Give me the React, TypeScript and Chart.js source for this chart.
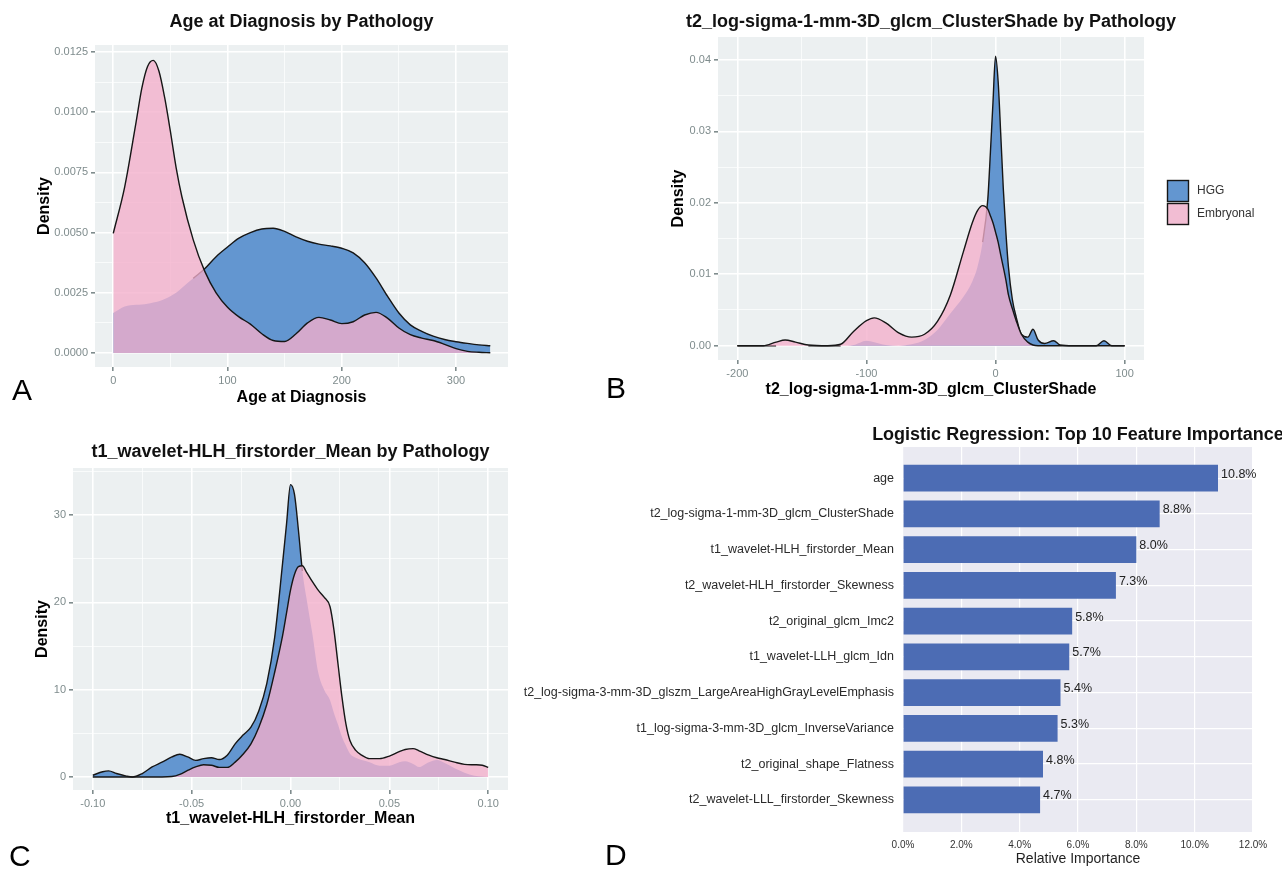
import React, { useEffect, useRef } from "react";
import { Chart, registerables } from "chart.js";

Chart.register(...registerables);

const FONT = "'Liberation Sans', Arial, Helvetica, sans-serif";
const PANEL_BG = "#ECF0F1";
const TICK_GREY = "#7F8C8D";
const HGG_FILL = "#6396D0";
const EMB_FILL = "rgba(243,174,202,0.78)";
const OUTLINE = "#161616";

// ---------- Panel A: Age at Diagnosis ----------
const ageX = [0, 10, 20, 25, 30, 35, 40, 45, 50, 55, 60, 70, 80, 90, 100, 110, 120, 130, 140, 150, 160, 170, 180, 190, 200, 210, 220, 230, 240, 250, 260, 270, 280, 290, 300, 310, 320, 330];
const ageHGG = [0.00166, 0.00193, 0.002, 0.00202, 0.00205, 0.0021, 0.00215, 0.00224, 0.00236, 0.0025, 0.0027, 0.0031, 0.0035, 0.004, 0.0044, 0.00477, 0.005, 0.00515, 0.00518, 0.00505, 0.00482, 0.00464, 0.00452, 0.00445, 0.00435, 0.00416, 0.00375, 0.00312, 0.00236, 0.00166, 0.00117, 0.0009, 0.0007, 0.00056, 0.00047, 0.0004, 0.00034, 0.0003];
const ageEmb = [0.00497, 0.0069, 0.0096, 0.011, 0.0119, 0.01215, 0.0117, 0.0106, 0.0092, 0.0077, 0.0065, 0.0047, 0.0034, 0.0025, 0.0019, 0.0015, 0.0012, 0.0008, 0.00052, 0.00048, 0.0008, 0.00125, 0.00148, 0.00137, 0.00122, 0.0013, 0.00158, 0.00169, 0.00145, 0.00104, 0.00076, 0.00062, 0.00052, 0.00036, 0.00018, 0.00007, 0.00003, 0.00001];
const ageTicksX = [0, 100, 200, 300];
const ageMinorX = [50, 150, 250];
const ageTicksY = [0, 0.0025, 0.005, 0.0075, 0.01, 0.0125];
const ageMinorY = [0.00125, 0.00375, 0.00625, 0.00875, 0.01125];

// ---------- Panel B: t2_log-sigma-1-mm-3D_glcm_ClusterShade ----------
const shadeX = [-200, -180, -170, -163, -155, -145, -130, -120, -110, -100, -94, -85, -75, -65, -55, -45, -35, -25, -18, -14, -10, -6, -4, -2, 0, 2, 4, 6, 8, 10, 13, 16, 20, 25, 29, 33, 38, 45, 50, 60, 78, 84, 90, 100];
const shadeHGG = [0, 0, 0, 0, 0, 0, 0, 0, 0.0001, 0.0007, 0.0005, 0.0001, 0, 0.0002, 0.0008, 0.0022, 0.0045, 0.0068, 0.009, 0.011, 0.0145, 0.0205, 0.027, 0.034, 0.0405, 0.037, 0.0297, 0.022, 0.0159, 0.011, 0.0065, 0.004, 0.0016, 0.0012, 0.0023, 0.0008, 0.0003, 0.0007, 0.0001, 0, 0, 0.0007, 0, 0];
const shadeEmb = [0, 0, 0.0005, 0.0008, 0.0005, 0.0001, 0, 0.0002, 0.002, 0.0035, 0.0039, 0.0032, 0.0018, 0.0012, 0.0016, 0.0034, 0.0071, 0.0131, 0.0172, 0.0189, 0.0196, 0.0191, 0.0182, 0.0172, 0.0159, 0.0145, 0.0127, 0.011, 0.0092, 0.0071, 0.0052, 0.0035, 0.0016, 0.0005, 0.0001, 0, 0, 0, 0, 0, 0, 0, 0, 0];
const shadeTicksX = [-200, -100, 0, 100];
const shadeMinorX = [-150, -50, 50];
const shadeTicksY = [0, 0.01, 0.02, 0.03, 0.04];
const shadeMinorY = [0.005, 0.015, 0.025, 0.035];

// ---------- Panel C: t1_wavelet-HLH_firstorder_Mean ----------
const meanX = [-0.1, -0.095, -0.092, -0.088, -0.083, -0.08, -0.075, -0.07, -0.065, -0.06, -0.056, -0.052, -0.048, -0.044, -0.04, -0.036, -0.032, -0.028, -0.024, -0.02, -0.016, -0.012, -0.008, -0.004, -0.002, 0, 0.002, 0.004, 0.006, 0.008, 0.011, 0.014, 0.017, 0.02, 0.022, 0.024, 0.026, 0.028, 0.03, 0.033, 0.036, 0.04, 0.045, 0.05, 0.055, 0.058, 0.062, 0.065, 0.07, 0.074, 0.078, 0.083, 0.088, 0.093, 0.097, 0.1];
const meanHGG = [0.2, 0.6, 0.7, 0.4, 0.1, 0.0, 0.4, 1.15, 1.7, 2.3, 2.6, 2.3, 1.9, 2.1, 2.2, 2.0, 2.5, 3.8, 4.8, 5.7, 7.6, 10.7, 16, 24.5, 29, 33.5, 32.4, 28.3, 23.6, 20.6, 16.5, 12, 10, 8.8, 7.3, 6.0, 4.6, 3.6, 2.7, 2.2, 1.95, 1.7, 1.3, 1.3, 1.7, 1.8, 1.5, 1.15, 1.7, 1.95, 1.6, 1.0, 0.5, 0.15, 0.05, 0];
const meanEmb = [0, 0, 0, 0, 0, 0, 0, 0, 0, 0.05, 0.3, 0.75, 1.15, 1.4, 1.35, 1.1, 1.1, 1.7, 2.6, 3.8, 5.7, 8.3, 12, 16.2, 18.8, 21.4, 23.2, 24.1, 24.2, 23.5, 22.4, 21.4, 20.6, 19.5, 16.8, 13, 9.2, 6.1, 4.2, 3.05, 2.5, 2.1, 2.1, 2.4, 2.9, 3.15, 3.25, 3.0, 2.5, 2.2, 2.0, 1.7, 1.45, 1.4, 1.35, 1.1];
const meanTicksX = [-0.1, -0.05, 0, 0.05, 0.1];
const meanMinorX = [-0.075, -0.025, 0.025, 0.075];
const meanTicksY = [0, 10, 20, 30];
const meanMinorY = [5, 15, 25, 35];

// ---------- Panel D: feature importance ----------
const featureNames = [
  "age",
  "t2_log-sigma-1-mm-3D_glcm_ClusterShade",
  "t1_wavelet-HLH_firstorder_Mean",
  "t2_wavelet-HLH_firstorder_Skewness",
  "t2_original_glcm_Imc2",
  "t1_wavelet-LLH_glcm_Idn",
  "t2_log-sigma-3-mm-3D_glszm_LargeAreaHighGrayLevelEmphasis",
  "t1_log-sigma-3-mm-3D_glcm_InverseVariance",
  "t2_original_shape_Flatness",
  "t2_wavelet-LLL_firstorder_Skewness",
];
const featureValues = [10.8, 8.8, 8.0, 7.3, 5.8, 5.7, 5.4, 5.3, 4.8, 4.7];
const importanceTicks = [0, 2, 4, 6, 8, 10, 12];

const near = (list: number[], v: number) => list.some((m) => Math.abs(m - v) < 1e-9);

const bgPlugin = (color: string) => ({
  id: "panelBg",
  beforeDraw(chart: any) {
    const { ctx, chartArea: a } = chart;
    ctx.save();
    ctx.fillStyle = color;
    ctx.fillRect(a.left, a.top, a.right - a.left, a.bottom - a.top);
    ctx.restore();
  },
});

const titlePlugin = (text: string, y: number, size: number) => ({
  id: "panelTitle",
  afterDraw(chart: any) {
    const { ctx, chartArea: a } = chart;
    ctx.save();
    ctx.font = `bold ${size}px ${FONT}`;
    ctx.fillStyle = "#111";
    ctx.textAlign = "center";
    ctx.textBaseline = "middle";
    ctx.fillText(text, (a.left + a.right) / 2, y);
    ctx.restore();
  },
});

function ggAxis(o: any) {
  const all = [...o.majors, ...o.minors].filter((v) => v >= o.min && v <= o.max).sort((a, b) => a - b);
  return {
    type: "linear",
    min: o.min,
    max: o.max,
    bounds: "data",
    afterBuildTicks: (s: any) => {
      s.ticks = all.map((v) => ({ value: v }));
    },
    afterFit: (s: any) => {
      if (o.horizontal) s.height = o.fit;
      else s.width = o.fit;
    },
    ticks: {
      autoSkip: false,
      maxRotation: 0,
      padding: 3,
      color: TICK_GREY,
      font: { family: FONT, size: 11 },
      callback: (v: number) => (near(o.majors, v) ? o.fmt(v) : ""),
    },
    grid: {
      color: "#ffffff",
      lineWidth: (c: any) => (c.tick && near(o.majors, c.tick.value) ? 1.6 : 0.7),
      tickColor: (c: any) => (c.tick && near(o.majors, c.tick.value) ? TICK_GREY : "rgba(0,0,0,0)"),
      tickLength: 4,
      drawTicks: true,
    },
    border: { display: false },
    title: {
      display: true,
      text: o.title,
      color: "#000",
      font: { family: FONT, size: 16, weight: "bold" },
      padding: o.horizontal ? { top: 0, bottom: 0 } : { top: o.titlePad, bottom: 0 },
    },
  };
}

function densityConfig(p: any) {
  const pts = (ys: number[]) => p.x.map((x: number, i: number) => ({ x, y: ys[i] }));
  // HGG area (fill only)
  const hggArea = {
    label: "HGG",
    data: pts(p.hgg),
    backgroundColor: HGG_FILL,
    borderWidth: 0,
    borderColor: "rgba(0,0,0,0)",
    fill: "origin",
    pointRadius: 0,
    cubicInterpolationMode: "monotone",
    order: 3,
  };
  // HGG outline, hidden where the Embryonal density lies above it
  const hggLine = {
    label: "HGG outline",
    data: pts(p.hgg),
    borderColor: OUTLINE,
    borderWidth: 1.4,
    fill: false,
    pointRadius: 0,
    cubicInterpolationMode: "monotone",
    order: 2,
    segment: {
      borderColor: (c: any) =>
        p.emb[c.p0DataIndex] > p.hgg[c.p0DataIndex] && p.emb[c.p1DataIndex] > p.hgg[c.p1DataIndex]
          ? "rgba(0,0,0,0)"
          : OUTLINE,
    },
  };
  const emb = {
    label: "Embryonal",
    data: pts(p.emb),
    backgroundColor: EMB_FILL,
    borderColor: OUTLINE,
    borderWidth: 1.4,
    fill: "origin",
    pointRadius: 0,
    cubicInterpolationMode: "monotone",
    order: 1,
  };
  const plugins: any[] = [bgPlugin(PANEL_BG), titlePlugin(p.title, p.titleY, 18)];
  if (p.legend) plugins.push(p.legend);
  return {
    type: "line",
    data: { datasets: [hggArea, hggLine, emb] },
    options: {
      responsive: false,
      animation: false,
      layout: { padding: p.padding },
      plugins: { legend: { display: false }, tooltip: { enabled: false } },
      scales: {
        x: ggAxis({ ...p.xAxis, horizontal: true }),
        y: ggAxis({ ...p.yAxis, horizontal: false }),
      },
    },
    plugins,
  };
}

const legendPlugin = {
  id: "ggLegend",
  afterDraw(chart: any) {
    const { ctx } = chart;
    const items = [
      { label: "HGG", fill: HGG_FILL, y: 180 },
      { label: "Embryonal", fill: EMB_FILL, y: 203 },
    ];
    ctx.save();
    items.forEach((it) => {
      ctx.fillStyle = PANEL_BG;
      ctx.fillRect(567, it.y, 22, 22);
      ctx.fillStyle = it.fill;
      ctx.fillRect(567, it.y, 22, 22);
      ctx.strokeStyle = OUTLINE;
      ctx.lineWidth = 1.4;
      ctx.strokeRect(567.5, it.y + 0.5, 21, 21);
      ctx.fillStyle = "#333";
      ctx.font = `12px ${FONT}`;
      ctx.textAlign = "left";
      ctx.textBaseline = "middle";
      ctx.fillText(it.label, 597, it.y + 11);
    });
    ctx.restore();
  },
};

const configA = () =>
  densityConfig({
    x: ageX,
    hgg: ageHGG,
    emb: ageEmb,
    title: "Age at Diagnosis by Pathology",
    titleY: 22,
    padding: { top: 45, right: 12, bottom: 13, left: 0 },
    xAxis: { min: -16, max: 345.5, majors: ageTicksX, minors: ageMinorX, fmt: (v: number) => String(v), title: "Age at Diagnosis", fit: 40 },
    yAxis: { min: -0.00058, max: 0.01279, majors: ageTicksY, minors: ageMinorY, fmt: (v: number) => v.toFixed(4), title: "Density", fit: 95, titlePad: 35.4 },
  });

const configB = () =>
  densityConfig({
    x: shadeX,
    hgg: shadeHGG,
    emb: shadeEmb,
    title: "t2_log-sigma-1-mm-3D_glcm_ClusterShade by Pathology",
    titleY: 22,
    padding: { top: 37, right: 138, bottom: 21, left: 0 },
    xAxis: { min: -215, max: 115, majors: shadeTicksX, minors: shadeMinorX, fmt: (v: number) => String(v), title: "t2_log-sigma-1-mm-3D_glcm_ClusterShade", fit: 39 },
    yAxis: { min: -0.002, max: 0.0432, majors: shadeTicksY, minors: shadeMinorY, fmt: (v: number) => v.toFixed(2), title: "Density", fit: 118, titlePad: 69.4 },
    legend: legendPlugin,
  });

const configC = () =>
  densityConfig({
    x: meanX,
    hgg: meanHGG,
    emb: meanEmb,
    title: "t1_wavelet-HLH_firstorder_Mean by Pathology",
    titleY: 32,
    padding: { top: 48, right: 12, bottom: 41, left: 0 },
    xAxis: { min: -0.11, max: 0.11, majors: meanTicksX, minors: meanMinorX, fmt: (v: number) => v.toFixed(2), title: "t1_wavelet-HLH_firstorder_Mean", fit: 38 },
    yAxis: { min: -1.49, max: 35.4, majors: meanTicksY, minors: meanMinorY, fmt: (v: number) => String(v), title: "Density", fit: 73, titlePad: 33.4 },
  });

const valueLabelPlugin = {
  id: "valueLabels",
  afterDatasetsDraw(chart: any) {
    const { ctx } = chart;
    const meta = chart.getDatasetMeta(0);
    ctx.save();
    ctx.font = `12.5px ${FONT}`;
    ctx.fillStyle = "#222";
    ctx.textAlign = "left";
    ctx.textBaseline = "middle";
    meta.data.forEach((bar: any, i: number) => {
      ctx.fillText(featureValues[i].toFixed(1) + "%", bar.x + 3, bar.y - 4);
    });
    ctx.restore();
  },
};

const configD = () => ({
  type: "bar",
  data: {
    datasets: [
      {
        data: featureValues.map((v, i) => ({ x: v, y: i })),
        backgroundColor: "#4C6CB4",
        borderWidth: 0,
        barPercentage: 0.75,
        categoryPercentage: 1,
      },
    ],
  },
  options: {
    indexAxis: "y",
    responsive: false,
    animation: false,
    layout: { padding: { top: 27, right: 29, bottom: 1, left: 0 } },
    plugins: { legend: { display: false }, tooltip: { enabled: false } },
    scales: {
      x: {
        type: "linear",
        min: 0,
        max: 12,
        bounds: "data",
        offset: false,
        afterBuildTicks: (s: any) => {
          s.ticks = importanceTicks.map((v) => ({ value: v }));
        },
        afterFit: (s: any) => {
          s.height = 36;
        },
        ticks: {
          autoSkip: false,
          maxRotation: 0,
          padding: 7,
          color: "#333",
          font: { family: FONT, size: 10 },
          callback: (v: number) => v.toFixed(1) + "%",
        },
        grid: { color: "#ffffff", lineWidth: 1.2, drawTicks: false, offset: false },
        border: { display: false },
        title: { display: true, text: "Relative Importance", color: "#1f1f1f", font: { family: FONT, size: 14 }, padding: { top: 0, bottom: 0 } },
      },
      y: {
        type: "linear",
        reverse: true,
        min: -0.87,
        max: 9.9,
        bounds: "data",
        offset: false,
        afterBuildTicks: (s: any) => {
          s.ticks = featureNames.map((_, i) => ({ value: i }));
        },
        afterFit: (s: any) => {
          s.width = 383;
        },
        ticks: {
          autoSkip: false,
          padding: 9,
          color: "#2a2a2a",
          font: { family: FONT, size: 12.5 },
          callback: (v: number) => featureNames[v] ?? "",
        },
        grid: { color: "#ffffff", lineWidth: 1.2, drawTicks: false, offset: false },
        border: { display: false },
      },
    },
  },
  plugins: [bgPlugin("#EAEAF2"), titlePlugin("Logistic Regression: Top 10 Feature Importance", 15, 18), valueLabelPlugin],
});

function ChartBox({ left, top, width, height, make }: any) {
  const ref = useRef<HTMLCanvasElement>(null);
  useEffect(() => {
    const chart = new Chart(ref.current as HTMLCanvasElement, make());
    return () => chart.destroy();
  }, []);
  return (
    <canvas
      ref={ref}
      width={width}
      height={height}
      style={{ position: "absolute", left, top, width, height }}
    />
  );
}

const letterStyle = (left: number, baseline: number): React.CSSProperties => ({
  position: "absolute",
  left,
  top: baseline - 25.4,
  fontFamily: FONT,
  fontSize: 30,
  lineHeight: "30px",
  color: "#000",
});

export default function App() {
  return (
    <div style={{ position: "fixed", left: 0, top: 0, width: 1282, height: 869, background: "#fff", overflow: "hidden" }}>
      <ChartBox left={0} top={0} width={520} height={420} make={configA} />
      <ChartBox left={600} top={0} width={682} height={420} make={configB} />
      <ChartBox left={0} top={420} width={520} height={449} make={configC} />
      <ChartBox left={520} top={420} width={762} height={449} make={configD} />
      <div style={letterStyle(12, 400)}>A</div>
      <div style={letterStyle(606, 398)}>B</div>
      <div style={letterStyle(9, 866)}>C</div>
      <div style={letterStyle(605, 865)}>D</div>
    </div>
  );
}
